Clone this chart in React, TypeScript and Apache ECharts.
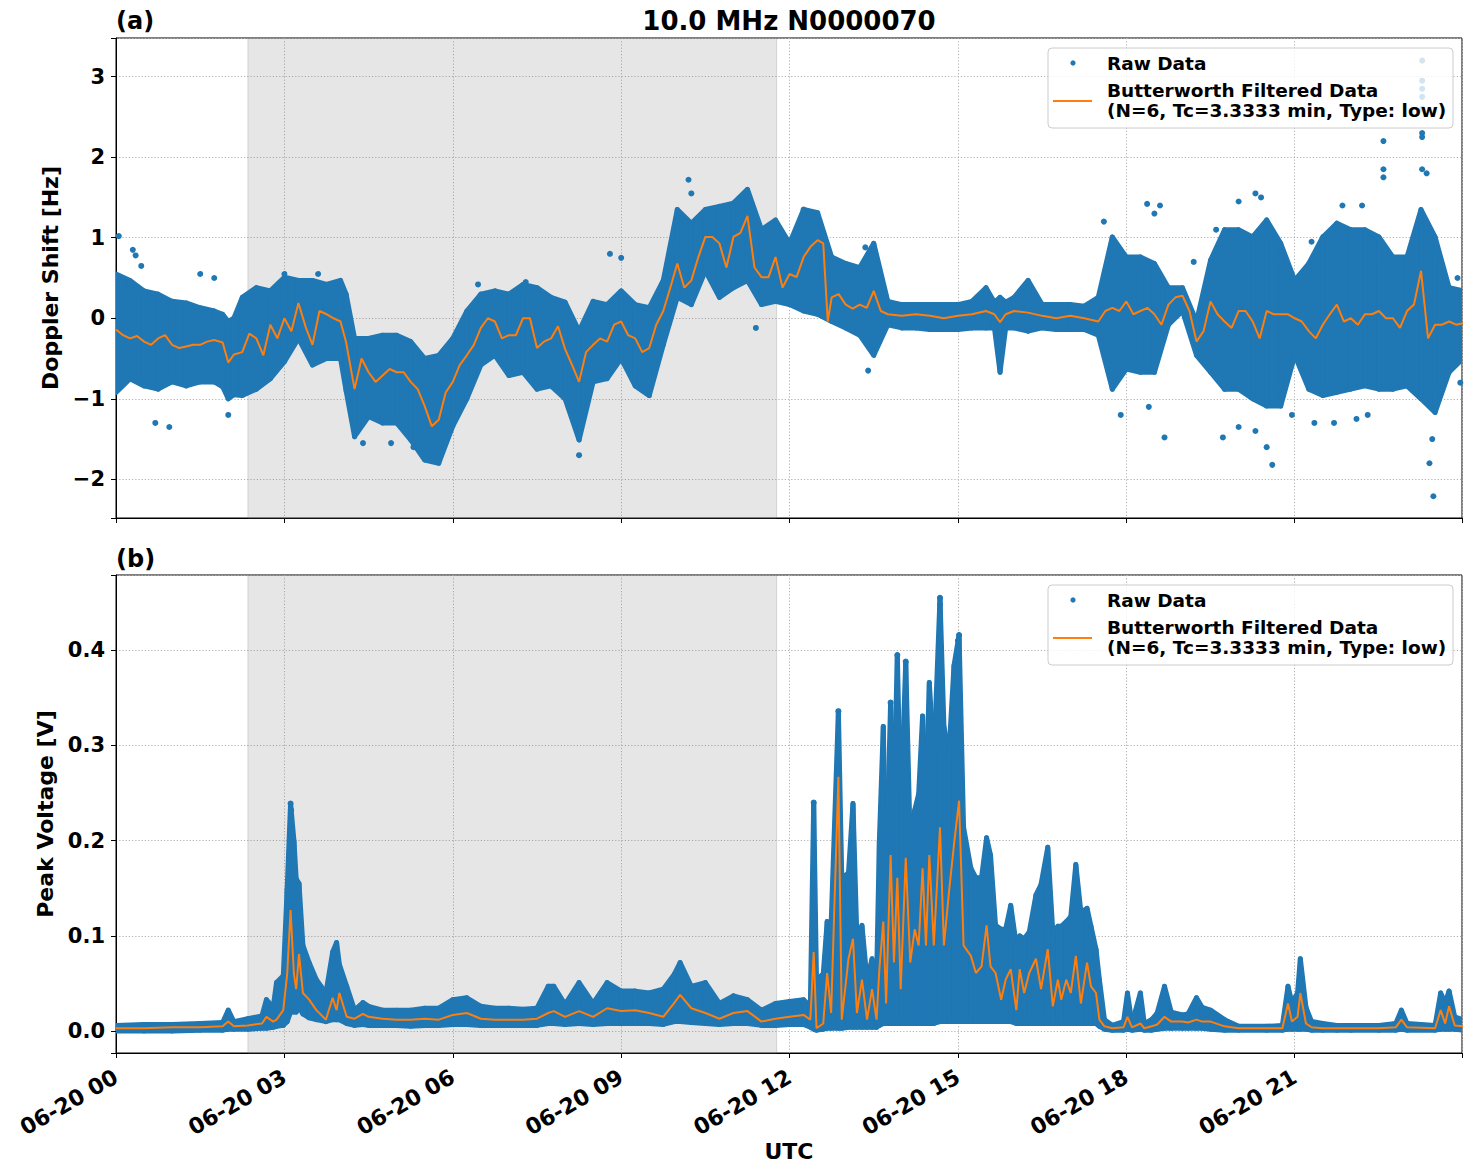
import React, { useEffect, useRef } from "react";
import * as echarts from "echarts";

const BLUE = "#1f77b4";
const ORANGE = "#ff7f0e";
const TITLE = "10.0 MHz N0000070";
const RAW_LABEL = "Raw Data";
const FILT_LABEL_1 = "Butterworth Filtered Data";
const FILT_LABEL_2 = "(N=6, Tc=3.3333 min, Type: low)";
const NIGHT_SPAN = [2.35, 11.77]; // hours UTC (shaded)
const X_TICK_HOURS = [0, 3, 6, 9, 12, 15, 18, 21];

// Doppler shift raw data envelope: [hour, low, high]
const dopplerRawRange = [
  [0, -0.92, 0.55], [0.25, -0.75, 0.47], [0.5, -0.84, 0.34], [0.75, -0.88, 0.3], [1.0, -0.79, 0.21],
  [1.25, -0.84, 0.19], [1.5, -0.79, 0.13], [1.75, -0.79, 0.09], [1.9, -0.85, 0.05], [2.0, -1.0, -0.04],
  [2.1, -0.95, 0.0], [2.25, -0.96, 0.26], [2.5, -0.88, 0.38], [2.75, -0.75, 0.34], [3.0, -0.54, 0.51],
  [3.25, -0.25, 0.47], [3.5, -0.58, 0.47], [3.75, -0.5, 0.42], [4.0, -0.5, 0.47], [4.1, -0.9, 0.3],
  [4.25, -1.47, -0.25], [4.5, -1.22, -0.25], [4.75, -1.3, -0.21], [5.0, -1.3, -0.21], [5.25, -1.51, -0.29],
  [5.5, -1.76, -0.5], [5.75, -1.8, -0.46], [6.0, -1.34, -0.25], [6.25, -1.0, 0.09], [6.5, -0.58, 0.3],
  [6.75, -0.46, 0.34], [7.0, -0.71, 0.3], [7.25, -0.67, 0.42], [7.5, -0.88, 0.38], [7.75, -0.84, 0.26],
  [8.0, -1.0, 0.2], [8.25, -1.51, -0.16], [8.5, -0.79, 0.21], [8.75, -0.75, 0.17], [9.0, -0.5, 0.34],
  [9.25, -0.84, 0.17], [9.5, -0.96, 0.13], [9.75, -0.33, 0.47], [10.0, 0.26, 1.35], [10.25, 0.17, 1.18],
  [10.5, 0.59, 1.35], [10.75, 0.26, 1.39], [11.0, 0.38, 1.43], [11.25, 0.47, 1.6], [11.5, 0.17, 1.1],
  [11.75, 0.21, 1.22], [12.0, 0.17, 0.93], [12.25, 0.09, 1.35], [12.5, 0.05, 1.31], [12.75, -0.04, 0.76],
  [13.0, -0.12, 0.68], [13.25, -0.21, 0.63], [13.5, -0.46, 0.93], [13.75, -0.08, 0.21], [14.0, -0.12, 0.17],
  [14.25, -0.12, 0.17], [14.5, -0.14, 0.17], [14.75, -0.14, 0.17], [15.0, -0.14, 0.17], [15.25, -0.12, 0.21],
  [15.5, -0.12, 0.38], [15.65, -0.12, 0.2], [15.75, -0.67, 0.26], [15.85, -0.12, 0.2], [16.0, -0.12, 0.26],
  [16.25, -0.16, 0.47], [16.5, -0.12, 0.17], [16.75, -0.14, 0.17], [17.0, -0.14, 0.17], [17.25, -0.14, 0.15],
  [17.5, -0.21, 0.26], [17.75, -0.88, 1.01], [18.0, -0.63, 0.76], [18.25, -0.67, 0.76], [18.5, -0.67, 0.68],
  [18.75, -0.08, 0.38], [19.0, 0.09, 0.38], [19.25, -0.46, -0.04], [19.5, -0.67, 0.72], [19.75, -0.88, 1.1],
  [20.0, -0.88, 1.1], [20.25, -1.0, 1.01], [20.5, -1.09, 1.22], [20.75, -1.09, 0.93], [21.0, -0.46, 0.47],
  [21.25, -0.88, 0.68], [21.5, -0.96, 1.01], [21.75, -0.92, 1.18], [22.0, -0.88, 1.1], [22.25, -0.84, 1.1],
  [22.5, -0.88, 1.01], [22.75, -0.88, 0.76], [23.0, -0.84, 0.76], [23.25, -1.0, 1.35], [23.5, -1.17, 1.01],
  [23.75, -0.67, 0.38], [24.0, -0.5, 0.34],
];

// Doppler shift filtered: [hour, value]
const dopplerFiltered = [
  [0, -0.14], [0.125, -0.21], [0.25, -0.25], [0.375, -0.22], [0.5, -0.29], [0.625, -0.33], [0.75, -0.25],
  [0.875, -0.21], [1.0, -0.33], [1.125, -0.37], [1.25, -0.35], [1.375, -0.33], [1.5, -0.33], [1.625, -0.29],
  [1.75, -0.27], [1.9, -0.3], [2.0, -0.55], [2.1, -0.45], [2.25, -0.42], [2.375, -0.19], [2.5, -0.25],
  [2.625, -0.46], [2.75, -0.08], [2.875, -0.25], [3.0, 0.0], [3.125, -0.16], [3.25, 0.19], [3.375, -0.1],
  [3.5, -0.33], [3.625, 0.09], [3.75, 0.05], [3.875, 0.0], [4.0, -0.04], [4.1, -0.3], [4.25, -0.88],
  [4.375, -0.5], [4.5, -0.67], [4.625, -0.79], [4.75, -0.71], [4.875, -0.63], [5.0, -0.67], [5.125, -0.67],
  [5.25, -0.79], [5.375, -0.88], [5.5, -1.09], [5.625, -1.34], [5.75, -1.26], [5.875, -0.92], [6.0, -0.79],
  [6.125, -0.58], [6.25, -0.46], [6.375, -0.33], [6.5, -0.12], [6.625, 0.0], [6.75, -0.04], [6.875, -0.25],
  [7.0, -0.21], [7.125, -0.21], [7.25, 0.0], [7.375, 0.0], [7.5, -0.37], [7.625, -0.29], [7.75, -0.25],
  [7.875, -0.1], [8.0, -0.38], [8.125, -0.58], [8.25, -0.79], [8.375, -0.42], [8.5, -0.33], [8.625, -0.25],
  [8.75, -0.29], [8.875, -0.08], [9.0, -0.04], [9.125, -0.21], [9.25, -0.25], [9.375, -0.42], [9.5, -0.37],
  [9.625, -0.08], [9.75, 0.09], [9.875, 0.38], [10.0, 0.68], [10.125, 0.38], [10.25, 0.47], [10.375, 0.76],
  [10.5, 1.01], [10.625, 1.01], [10.75, 0.93], [10.875, 0.63], [11.0, 1.01], [11.125, 1.06], [11.25, 1.27],
  [11.375, 0.63], [11.5, 0.51], [11.625, 0.51], [11.75, 0.76], [11.875, 0.38], [12.0, 0.55], [12.125, 0.51],
  [12.25, 0.76], [12.375, 0.89], [12.5, 0.97], [12.6, 0.93], [12.68, -0.04], [12.75, 0.26], [12.875, 0.3],
  [13.0, 0.17], [13.125, 0.12], [13.25, 0.17], [13.375, 0.13], [13.5, 0.34], [13.625, 0.09], [13.75, 0.05],
  [14.0, 0.03], [14.25, 0.05], [14.5, 0.03], [14.75, 0.0], [15.0, 0.03], [15.25, 0.05], [15.5, 0.09],
  [15.65, 0.05], [15.75, -0.05], [15.85, 0.05], [16.0, 0.09], [16.25, 0.07], [16.5, 0.03], [16.75, 0.0],
  [17.0, 0.03], [17.25, 0.0], [17.5, -0.04], [17.625, 0.09], [17.75, 0.13], [17.875, 0.09], [18.0, 0.21],
  [18.125, 0.05], [18.25, 0.09], [18.375, 0.13], [18.5, 0.05], [18.625, -0.08], [18.75, 0.17], [18.875, 0.26],
  [19.0, 0.28], [19.125, 0.09], [19.25, -0.29], [19.375, -0.16], [19.5, 0.21], [19.625, 0.05], [19.75, -0.04],
  [19.875, -0.12], [20.0, 0.09], [20.125, 0.09], [20.25, -0.04], [20.375, -0.25], [20.5, 0.09], [20.625, 0.05],
  [20.75, 0.05], [20.875, 0.05], [21.0, 0.0], [21.125, -0.04], [21.25, -0.16], [21.375, -0.25], [21.5, -0.08],
  [21.625, 0.05], [21.75, 0.17], [21.875, -0.04], [22.0, 0.0], [22.125, -0.08], [22.25, 0.05], [22.375, 0.05],
  [22.5, 0.09], [22.625, 0.0], [22.75, 0.0], [22.875, -0.12], [23.0, 0.09], [23.125, 0.17], [23.25, 0.59],
  [23.375, -0.25], [23.5, -0.08], [23.625, -0.08], [23.75, -0.04], [23.875, -0.08], [24.0, -0.06],
];

// Doppler isolated raw points: [hour, value]
const dopplerOutliers = [
  [0.05, 1.02], [0.3, 0.85], [0.35, 0.78], [0.45, 0.65], [1.5, 0.55], [1.75, 0.5], [0.7, -1.3], [0.95, -1.35],
  [2.0, -1.2], [3.0, 0.55], [3.6, 0.55], [4.4, -1.55], [4.9, -1.55], [5.3, -1.6], [6.45, 0.42], [7.3, 0.45],
  [8.25, -1.7], [8.8, 0.8], [9.0, 0.75], [10.2, 1.72], [10.25, 1.55], [11.4, -0.12], [11.7, 1.1], [12.25, 1.35],
  [13.4, -0.65], [13.35, 0.88], [17.6, 1.2], [17.9, -1.2], [18.37, 1.42], [18.5, 1.3], [18.6, 1.4], [18.4, -1.1],
  [18.68, -1.48], [19.2, 0.7], [19.6, 1.1], [20.0, 1.45], [20.3, 1.55], [20.4, 1.5], [19.72, -1.48], [20.0, -1.35],
  [20.3, -1.4], [20.6, -1.82], [20.5, -1.6], [20.95, -1.2], [21.3, 0.95], [21.35, -1.3], [21.85, 1.4], [22.2, 1.4],
  [22.58, 2.2], [22.58, 1.85], [22.58, 1.75], [22.1, -1.25], [22.3, -1.2], [21.7, -1.3], [23.27, 3.2],
  [23.27, 2.95], [23.27, 2.85], [23.27, 2.75], [23.27, 2.6], [23.27, 2.3], [23.27, 2.25], [23.27, 1.85],
  [23.35, 1.8], [23.45, -1.5], [23.47, -2.21], [23.4, -1.8], [23.9, 0.5], [23.95, -0.8],
];

// Peak voltage raw data envelope: [hour, low, high]
const voltRawRange = [
  [0.0, 0.0, 0.006], [0.5, 0.0, 0.007], [1.0, 0.0, 0.007], [1.5, 0.001, 0.008], [1.9, 0.001, 0.009],
  [2.0, 0.002, 0.022], [2.1, 0.002, 0.01], [2.35, 0.002, 0.013], [2.6, 0.003, 0.016], [2.68, 0.003, 0.033],
  [2.8, 0.004, 0.025], [2.86, 0.005, 0.051], [2.98, 0.006, 0.058], [3.05, 0.01, 0.15], [3.11, 0.02, 0.239],
  [3.17, 0.02, 0.2], [3.21, 0.02, 0.16], [3.26, 0.025, 0.155], [3.33, 0.018, 0.09], [3.44, 0.014, 0.072],
  [3.57, 0.012, 0.054], [3.74, 0.01, 0.04], [3.86, 0.012, 0.083], [3.93, 0.012, 0.093], [3.98, 0.012, 0.07],
  [4.11, 0.008, 0.047], [4.25, 0.006, 0.022], [4.4, 0.007, 0.03], [4.5, 0.006, 0.026], [4.75, 0.006, 0.022],
  [5.0, 0.006, 0.022], [5.25, 0.005, 0.022], [5.5, 0.006, 0.024], [5.75, 0.006, 0.024], [6.0, 0.007, 0.033],
  [6.25, 0.007, 0.035], [6.5, 0.006, 0.026], [6.75, 0.006, 0.024], [7.0, 0.006, 0.024], [7.25, 0.006, 0.023],
  [7.5, 0.006, 0.024], [7.7, 0.008, 0.047], [7.8, 0.008, 0.047], [8.0, 0.007, 0.028], [8.25, 0.008, 0.051],
  [8.5, 0.007, 0.029], [8.75, 0.008, 0.051], [9.0, 0.008, 0.042], [9.25, 0.008, 0.042], [9.5, 0.008, 0.04],
  [9.75, 0.007, 0.044], [9.95, 0.01, 0.06], [10.05, 0.01, 0.072], [10.25, 0.009, 0.047], [10.5, 0.008, 0.051],
  [10.75, 0.007, 0.029], [11.0, 0.008, 0.037], [11.25, 0.008, 0.033], [11.5, 0.006, 0.022], [11.75, 0.006, 0.029],
  [12.0, 0.007, 0.031], [12.25, 0.007, 0.033], [12.37, 0.004, 0.026], [12.43, 0.002, 0.24], [12.48, 0.001, 0.054],
  [12.6, 0.002, 0.06], [12.67, 0.003, 0.115], [12.74, 0.003, 0.111], [12.87, 0.003, 0.336], [12.93, 0.003, 0.161],
  [13.05, 0.004, 0.166], [13.13, 0.004, 0.239], [13.2, 0.004, 0.097], [13.29, 0.004, 0.111], [13.38, 0.004, 0.054],
  [13.47, 0.004, 0.076], [13.55, 0.004, 0.054], [13.6, 0.006, 0.2], [13.67, 0.008, 0.32], [13.72, 0.008, 0.161],
  [13.8, 0.008, 0.345], [13.86, 0.008, 0.249], [13.92, 0.008, 0.395], [13.98, 0.008, 0.232], [14.07, 0.008, 0.388],
  [14.15, 0.008, 0.196], [14.23, 0.008, 0.232], [14.3, 0.008, 0.249], [14.37, 0.008, 0.331], [14.43, 0.008, 0.249],
  [14.49, 0.008, 0.366], [14.57, 0.008, 0.285], [14.68, 0.01, 0.455], [14.75, 0.01, 0.32], [14.84, 0.01, 0.292],
  [14.93, 0.01, 0.384], [15.02, 0.01, 0.416], [15.1, 0.01, 0.214], [15.23, 0.01, 0.171], [15.32, 0.01, 0.161],
  [15.42, 0.01, 0.161], [15.51, 0.01, 0.203], [15.58, 0.01, 0.185], [15.67, 0.01, 0.111], [15.77, 0.01, 0.107],
  [15.85, 0.01, 0.107], [15.94, 0.01, 0.132], [16.04, 0.008, 0.09], [16.1, 0.008, 0.1], [16.18, 0.008, 0.097],
  [16.27, 0.008, 0.104], [16.39, 0.008, 0.143], [16.48, 0.008, 0.154], [16.6, 0.008, 0.193], [16.69, 0.008, 0.104],
  [16.78, 0.008, 0.11], [16.84, 0.008, 0.11], [16.93, 0.008, 0.115], [17.01, 0.008, 0.12], [17.1, 0.008, 0.175],
  [17.19, 0.008, 0.125], [17.3, 0.008, 0.129], [17.37, 0.008, 0.11], [17.46, 0.008, 0.086], [17.52, 0.005, 0.054],
  [17.61, 0.002, 0.012], [17.75, 0.001, 0.006], [17.95, 0.001, 0.01], [18.02, 0.002, 0.04], [18.1, 0.001, 0.008],
  [18.25, 0.002, 0.04], [18.32, 0.001, 0.008], [18.45, 0.001, 0.012], [18.55, 0.002, 0.019], [18.68, 0.003, 0.047],
  [18.8, 0.003, 0.02], [19.0, 0.003, 0.017], [19.1, 0.003, 0.018], [19.25, 0.003, 0.035], [19.35, 0.003, 0.025],
  [19.5, 0.002, 0.022], [19.75, 0.001, 0.012], [20.0, 0.001, 0.005], [20.5, 0.001, 0.005], [20.78, 0.001, 0.006],
  [20.88, 0.002, 0.047], [20.95, 0.002, 0.03], [21.05, 0.002, 0.04], [21.1, 0.002, 0.076], [21.2, 0.002, 0.025],
  [21.3, 0.001, 0.01], [21.5, 0.001, 0.008], [21.75, 0.001, 0.006], [22.0, 0.001, 0.006], [22.5, 0.001, 0.006],
  [22.8, 0.001, 0.008], [22.9, 0.002, 0.022], [23.0, 0.001, 0.008], [23.5, 0.001, 0.006], [23.6, 0.002, 0.04],
  [23.68, 0.002, 0.03], [23.75, 0.002, 0.042], [23.85, 0.002, 0.015], [24.0, 0.001, 0.012],
];

// Peak voltage filtered: [hour, value]
const voltFiltered = [
  [0, 0.003], [0.5, 0.003], [1.0, 0.004], [1.5, 0.004], [1.9, 0.005], [2.0, 0.01], [2.1, 0.005], [2.35, 0.006],
  [2.6, 0.008], [2.68, 0.015], [2.8, 0.01], [2.86, 0.012], [2.98, 0.022], [3.05, 0.06], [3.11, 0.127], [3.17, 0.06],
  [3.21, 0.044], [3.26, 0.081], [3.33, 0.04], [3.44, 0.033], [3.57, 0.022], [3.74, 0.012], [3.86, 0.035],
  [3.93, 0.022], [3.98, 0.04], [4.11, 0.015], [4.25, 0.013], [4.4, 0.018], [4.5, 0.015], [4.75, 0.013],
  [5.0, 0.012], [5.25, 0.012], [5.5, 0.013], [5.75, 0.012], [6.0, 0.017], [6.25, 0.019], [6.5, 0.013],
  [6.75, 0.012], [7.0, 0.012], [7.25, 0.012], [7.5, 0.013], [7.7, 0.019], [7.8, 0.021], [8.0, 0.015],
  [8.25, 0.021], [8.5, 0.015], [8.75, 0.024], [9.0, 0.021], [9.25, 0.022], [9.5, 0.019], [9.75, 0.015],
  [9.95, 0.03], [10.05, 0.038], [10.25, 0.024], [10.5, 0.019], [10.75, 0.013], [11.0, 0.019], [11.25, 0.021],
  [11.5, 0.01], [11.75, 0.013], [12.0, 0.015], [12.25, 0.017], [12.37, 0.012], [12.43, 0.083], [12.48, 0.003],
  [12.6, 0.008], [12.67, 0.061], [12.74, 0.019], [12.87, 0.267], [12.93, 0.012], [13.05, 0.076], [13.13, 0.097],
  [13.2, 0.019], [13.29, 0.054], [13.38, 0.012], [13.47, 0.044], [13.55, 0.012], [13.6, 0.065], [13.67, 0.115],
  [13.72, 0.029], [13.8, 0.185], [13.86, 0.072], [13.92, 0.161], [13.98, 0.044], [14.07, 0.182], [14.15, 0.072],
  [14.23, 0.107], [14.3, 0.09], [14.37, 0.171], [14.43, 0.09], [14.49, 0.185], [14.57, 0.09], [14.68, 0.214],
  [14.75, 0.09], [14.84, 0.146], [14.93, 0.196], [15.02, 0.242], [15.1, 0.09], [15.23, 0.079], [15.32, 0.061],
  [15.42, 0.068], [15.51, 0.111], [15.58, 0.068], [15.67, 0.061], [15.77, 0.033], [15.85, 0.054], [15.94, 0.065],
  [16.04, 0.022], [16.1, 0.065], [16.18, 0.04], [16.27, 0.061], [16.39, 0.076], [16.48, 0.044], [16.6, 0.086],
  [16.69, 0.026], [16.78, 0.054], [16.84, 0.033], [16.93, 0.054], [17.01, 0.04], [17.1, 0.079], [17.19, 0.029],
  [17.3, 0.072], [17.37, 0.047], [17.46, 0.04], [17.52, 0.012], [17.61, 0.005], [17.75, 0.003], [17.95, 0.004],
  [18.02, 0.015], [18.1, 0.004], [18.25, 0.008], [18.32, 0.003], [18.45, 0.005], [18.55, 0.007], [18.68, 0.015],
  [18.8, 0.01], [19.0, 0.01], [19.1, 0.009], [19.25, 0.012], [19.35, 0.01], [19.5, 0.01], [19.75, 0.005],
  [20.0, 0.003], [20.5, 0.003], [20.78, 0.003], [20.88, 0.029], [20.95, 0.01], [21.05, 0.015], [21.1, 0.04],
  [21.2, 0.008], [21.3, 0.004], [21.5, 0.003], [21.75, 0.003], [22.0, 0.003], [22.5, 0.003], [22.8, 0.004],
  [22.9, 0.012], [23.0, 0.004], [23.5, 0.003], [23.6, 0.022], [23.68, 0.008], [23.75, 0.026], [23.85, 0.006],
  [24.0, 0.005],
];

// Peak voltage isolated raw points: [hour, value]
const voltOutliers = [
  [3.11, 0.239], [3.12, 0.232], [3.12, 0.225], [12.43, 0.24], [12.87, 0.336], [13.92, 0.395], [14.68, 0.455],
  [14.68, 0.448], [15.02, 0.416], [15.0, 0.41], [13.8, 0.345], [14.07, 0.388],
];

const FONT = '"DejaVu Sans", sans-serif';

function bandSeries(range: number[][], idx: number) {
  return {
    type: "custom",
    xAxisIndex: idx,
    yAxisIndex: idx,
    clip: true,
    z: 3,
    data: range,
    encode: { x: 0, y: [1, 2] },
    renderItem: (params: any, api: any) => {
      const i = params.dataIndex;
      if (i >= range.length - 1) return null;
      const a = range[i];
      const b = range[i + 1];
      const pts = [
        api.coord([a[0], a[1]]),
        api.coord([a[0], a[2]]),
        api.coord([b[0], b[2]]),
        api.coord([b[0], b[1]]),
      ];
      return {
        type: "polygon",
        shape: { points: pts },
        style: { fill: BLUE, stroke: BLUE, lineWidth: 5, lineJoin: "round" },
      };
    },
  };
}

function shadeSeries(idx: number) {
  return {
    type: "line",
    xAxisIndex: idx,
    yAxisIndex: idx,
    data: [],
    z: 1,
    silent: true,
    markArea: {
      silent: true,
      itemStyle: { color: "rgba(128,128,128,0.2)", borderColor: "rgba(128,128,128,0.25)", borderWidth: 1 },
      data: [[{ xAxis: NIGHT_SPAN[0] }, { xAxis: NIGHT_SPAN[1] }]],
    },
  };
}

function lineSeries(data: number[][], idx: number) {
  return {
    type: "line",
    xAxisIndex: idx,
    yAxisIndex: idx,
    data,
    showSymbol: false,
    symbol: "none",
    clip: true,
    z: 5,
    lineStyle: { color: ORANGE, width: 2 },
  };
}

function scatterSeries(data: number[][], idx: number) {
  return {
    type: "scatter",
    xAxisIndex: idx,
    yAxisIndex: idx,
    data,
    symbolSize: 6,
    clip: true,
    z: 4,
    itemStyle: { color: BLUE, opacity: 1 },
  };
}

const gridLine = { show: true, lineStyle: { color: "#b0b0b0", type: [1.2, 2], width: 1 } };

function xAxis(idx: number, showLabels: boolean) {
  return {
    type: "value",
    gridIndex: idx,
    min: 0,
    max: 23.98,
    interval: 3,
    axisLine: { show: true, onZero: false, lineStyle: { color: "#000", width: 1 } },
    axisTick: { show: true, length: 5, lineStyle: { color: "#000", width: 1 } },
    splitLine: gridLine,
    axisLabel: {
      show: showLabels,
      rotate: 30,
      margin: 22,
      color: "#000",
      fontFamily: FONT,
      fontWeight: "bold",
      fontSize: 22,
      formatter: (v: number) => {
        const h = Math.round(v);
        if (Math.abs(v - h) > 1e-6 || X_TICK_HOURS.indexOf(h) < 0) return "";
        return "06-20 " + (h < 10 ? "0" + h : String(h));
      },
    },
  };
}

function yAxis(idx: number, min: number, max: number, split: number, name: string, gap: number, fmt: (v: number) => string) {
  return {
    type: "value",
    gridIndex: idx,
    min,
    max,
    splitNumber: split,
    name,
    nameLocation: "middle",
    nameGap: gap,
    nameTextStyle: { fontFamily: FONT, fontWeight: "bold", fontSize: 22, color: "#000" },
    axisLine: { show: true, onZero: false, lineStyle: { color: "#000", width: 1 } },
    axisTick: { show: true, length: 5, lineStyle: { color: "#000", width: 1 } },
    splitLine: gridLine,
    axisLabel: { color: "#000", fontFamily: FONT, fontWeight: "bold", fontSize: 21, margin: 11, formatter: fmt },
  };
}

function legendGraphic(gridTop: number) {
  const boxX = 1048;
  const boxY = gridTop + 10;
  const txt = (text: string, y: number) => ({
    type: "text",
    x: 1107,
    y,
    z: 101,
    style: { text, font: "bold 18.5px " + FONT, fill: "#000", textAlign: "left", textVerticalAlign: "middle" },
  });
  return [
    {
      type: "rect",
      z: 100,
      shape: { x: boxX, y: boxY, width: 405, height: 80, r: 4 },
      style: { fill: "rgba(255,255,255,0.8)", stroke: "#cccccc", lineWidth: 1 },
    },
    { type: "circle", z: 101, shape: { cx: 1073, cy: gridTop + 25, r: 2.6 }, style: { fill: BLUE } },
    txt(RAW_LABEL, gridTop + 25),
    { type: "line", z: 101, shape: { x1: 1053, y1: gridTop + 63, x2: 1092, y2: gridTop + 63 }, style: { stroke: ORANGE, lineWidth: 2 } },
    txt(FILT_LABEL_1, gridTop + 52),
    txt(FILT_LABEL_2, gridTop + 72),
  ];
}

const fmtDoppler = (v: number) => {
  const r = Math.round(v);
  if (Math.abs(v - r) > 1e-6) return "";
  return r < 0 ? "\u2212" + Math.abs(r) : String(r);
};
const fmtVolt = (v: number) => {
  const k = v * 10;
  const r = Math.round(k);
  if (Math.abs(k - r) > 1e-6) return "";
  return (r / 10).toFixed(1);
};

export default function App() {
  const ref = useRef<HTMLDivElement>(null);
  useEffect(() => {
    if (!ref.current) return;
    const chart = echarts.init(ref.current, undefined, { renderer: "svg" });
    const TOP1 = 38;
    const TOP2 = 575;
    chart.setOption({
      animation: false,
      backgroundColor: "#fff",
      grid: [
        { left: 116, top: TOP1, width: 1346, height: 480, show: true, borderColor: "#000", borderWidth: 1, backgroundColor: "transparent" },
        { left: 116, top: TOP2, width: 1346, height: 478, show: true, borderColor: "#000", borderWidth: 1, backgroundColor: "transparent" },
      ],
      xAxis: [xAxis(0, false), xAxis(1, true)],
      yAxis: [
        yAxis(0, -2.48, 3.48, 6, "Doppler Shift [Hz]", 52, fmtDoppler),
        yAxis(1, -0.023, 0.479, 5, "Peak Voltage [V]", 56, fmtVolt),
      ],
      series: [
        shadeSeries(0),
        bandSeries(dopplerRawRange, 0),
        scatterSeries(dopplerOutliers, 0),
        lineSeries(dopplerFiltered, 0),
        shadeSeries(1),
        bandSeries(voltRawRange, 1),
        scatterSeries(voltOutliers, 1),
        lineSeries(voltFiltered, 1),
      ],
      graphic: [
        { type: "text", x: 789, y: 21, style: { text: TITLE, font: "bold 26px " + FONT, fill: "#000", textAlign: "center", textVerticalAlign: "middle" } },
        { type: "text", x: 116, y: 21, style: { text: "(a)", font: "bold 24px " + FONT, fill: "#000", textAlign: "left", textVerticalAlign: "middle" } },
        { type: "text", x: 116, y: 559, style: { text: "(b)", font: "bold 24px " + FONT, fill: "#000", textAlign: "left", textVerticalAlign: "middle" } },
        { type: "text", x: 789, y: 1151, style: { text: "UTC", font: "bold 22px " + FONT, fill: "#000", textAlign: "center", textVerticalAlign: "middle" } },
        ...legendGraphic(TOP1),
        ...legendGraphic(TOP2),
      ],
    });
    return () => chart.dispose();
  }, []);
  return <div ref={ref} style={{ position: "absolute", left: 0, top: 0, width: 1471, height: 1172 }} />;
}
